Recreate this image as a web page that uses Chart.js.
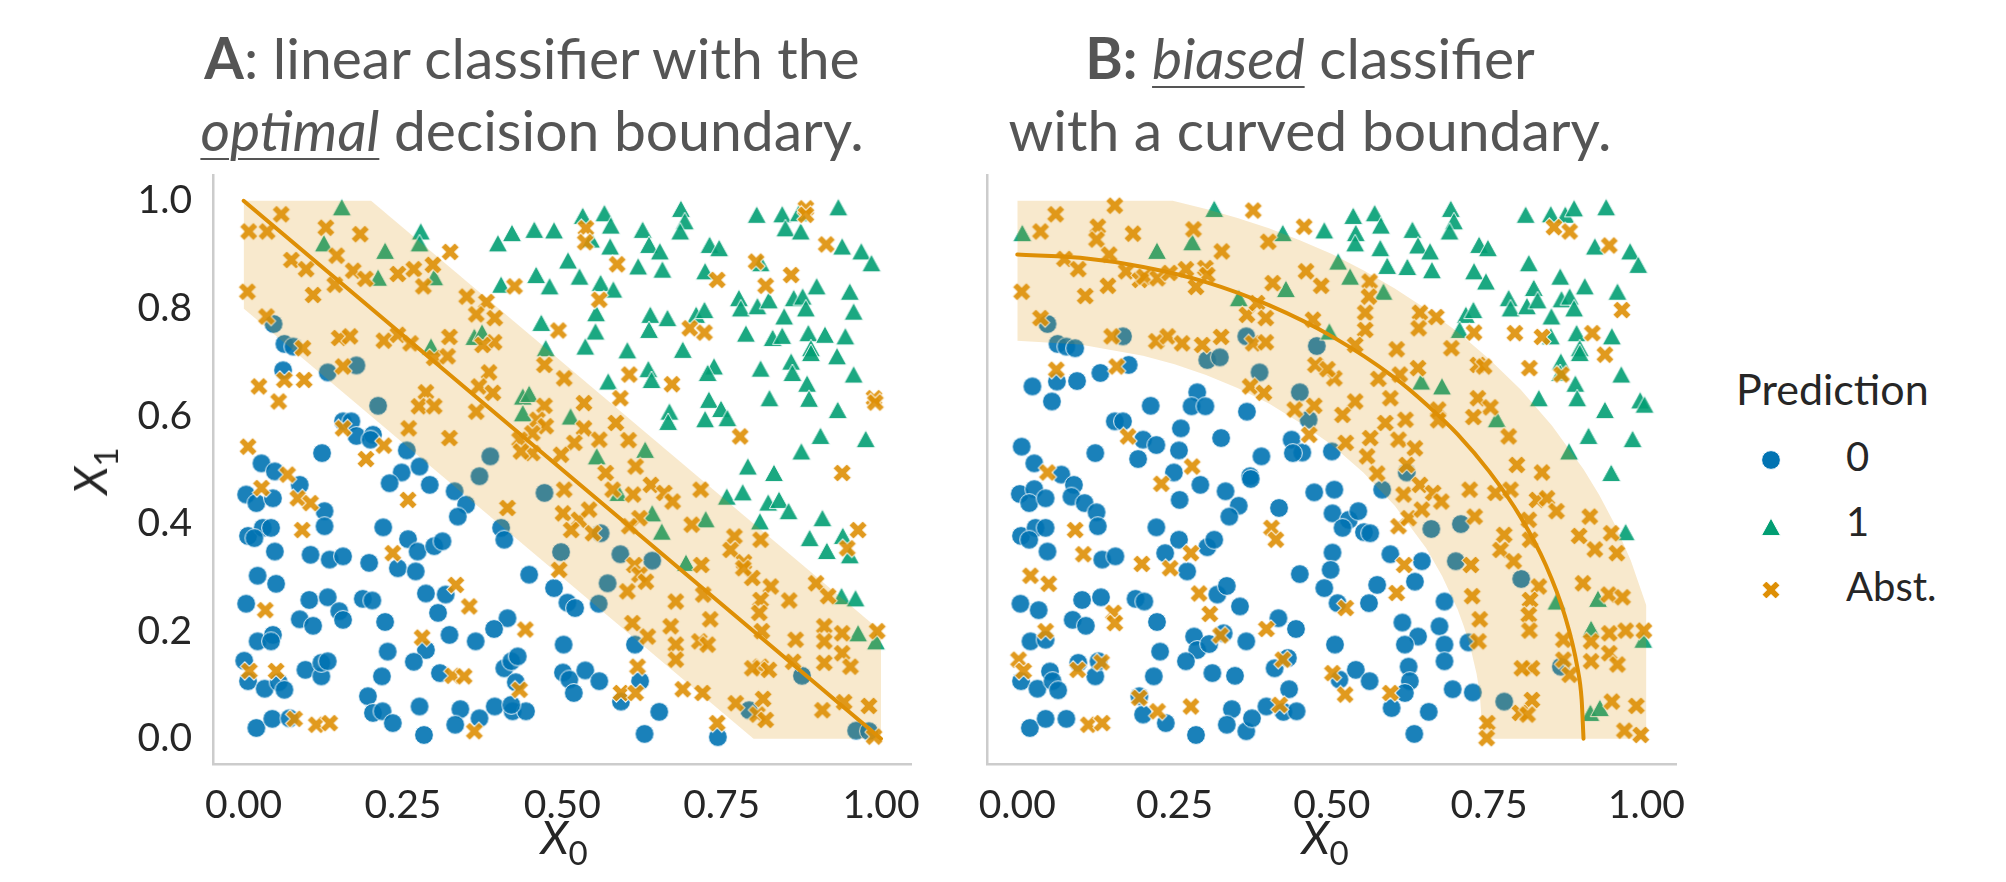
<!DOCTYPE html>
<html>
<head>
<meta charset="utf-8">
<script src="https://cdn.jsdelivr.net/npm/chart.js@4.4.0/dist/chart.umd.min.js"></script>
<style>
  body { margin: 0; background: #fff; width: 2006px; height: 882px; overflow: hidden; position: relative; font-family: Lato, sans-serif; }
  canvas.chart { position: absolute; top: 0; }
  #chartA { left: 0; }
  #chartB { left: 960px; }
  .title { position: absolute; top: 21px; width: 760px; text-align: center; font-size: 57px; line-height: 72px; color: #555; white-space: nowrap; }
  .title u { text-decoration-thickness: 2px; text-underline-offset: 7px; }
  .axlab { position: absolute; width: 200px; text-align: center; font-size: 46px; line-height: 46px; color: #262626; white-space: nowrap; }
  .axlab sub { font-size: 0.72em; vertical-align: -0.32em; line-height: 0; font-style: normal; }
  .leg { position: absolute; font-size: 40px; line-height: 40px; color: #262626; white-space: nowrap; }
  canvas.lmark { position: absolute; }
</style>
</head>
<body>
<canvas id="chartA" class="chart" width="960" height="882"></canvas>
<canvas id="chartB" class="chart" width="760" height="882"></canvas>

<div class="title" style="left:152px"><b>A</b>: linear classifier with the<br><u><i>optimal</i></u> decision boundary.</div>
<div class="title" style="left:930px"><b>B:</b> <u><i>biased</i></u> classifier<br>with a curved boundary.</div>

<div class="axlab" style="left:464px; top:814px"><i>X</i><sub>0</sub></div>
<div class="axlab" style="left:1225px; top:814px"><i>X</i><sub>0</sub></div>
<div class="axlab" style="left:90px; top:471px; width:auto; transform: translate(-50%, -50%) rotate(-90deg)"><i>X</i><sub>1</sub></div>

<div class="leg" style="left:1736px; top:367px; font-size:43px; line-height:43px">Prediction</div>
<div class="leg" style="left:1846px; top:436px">0</div>
<div class="leg" style="left:1846px; top:501px">1</div>
<div class="leg" style="left:1846px; top:566px">Abst.</div>

<script>
// colours (seaborn colorblind)
var BLUE = '#0173b2';
var GREEN = '#029e73';
var ORANGE = '#de8f05';

var X_TICKS = [0, 0.25, 0.5, 0.75, 1];
var Y_TICKS = [0, 0.2, 0.4, 0.6, 0.8, 1];
var LEGEND_LABELS = ['0', '1', 'Abst.'];

// panel A : predictions, [x0, x1]
var A_PRED0 = [
  [0.047,0.771],[0.064,0.734],[0.078,0.729],[0.062,0.685],[0.132,0.681],[0.177,0.694],[0.211,0.619],[0.156,0.590],
  [0.169,0.590],[0.177,0.563],[0.203,0.565],[0.199,0.556],[0.123,0.531],[0.028,0.512],[0.049,0.497],[0.256,0.536],
  [0.248,0.495],[0.276,0.506],[0.387,0.525],[0.370,0.488],[0.088,0.472],[0.004,0.454],[0.020,0.438],[0.046,0.447],
  [0.127,0.423],[0.127,0.395],[0.229,0.475],[0.292,0.472],[0.331,0.460],[0.349,0.435],[0.336,0.413],[0.472,0.457],
  [0.404,0.392],[0.409,0.370],[0.007,0.377],[0.030,0.392],[0.043,0.392],[0.017,0.373],[0.049,0.348],[0.105,0.342],
  [0.135,0.333],[0.156,0.339],[0.219,0.393],[0.197,0.327],[0.258,0.371],[0.273,0.348],[0.299,0.358],[0.312,0.367],
  [0.242,0.317],[0.270,0.311],[0.448,0.305],[0.022,0.303],[0.051,0.288],[0.004,0.251],[0.103,0.258],[0.132,0.263],
  [0.150,0.237],[0.156,0.221],[0.088,0.222],[0.109,0.210],[0.187,0.260],[0.202,0.257],[0.222,0.217],[0.286,0.270],
  [0.317,0.268],[0.305,0.234],[0.414,0.224],[0.393,0.204],[0.022,0.181],[0.046,0.193],[0.043,0.181],[0.226,0.162],
  [0.286,0.165],[0.323,0.193],[0.364,0.181],[0.001,0.145],[0.007,0.107],[0.033,0.093],[0.055,0.105],[0.064,0.091],
  [0.097,0.128],[0.122,0.116],[0.122,0.141],[0.132,0.144],[0.267,0.143],[0.217,0.116],[0.308,0.122],[0.409,0.131],
  [0.420,0.144],[0.430,0.153],[0.427,0.105],[0.020,0.020],[0.045,0.037],[0.072,0.038],[0.195,0.079],[0.203,0.048],
  [0.218,0.051],[0.234,0.029],[0.276,0.060],[0.283,0.007],[0.340,0.055],[0.332,0.026],[0.370,0.038],[0.394,0.060],
  [0.422,0.051],[0.443,0.051],[0.420,0.063],[0.560,0.382],[0.498,0.347],[0.591,0.343],[0.641,0.331],[0.571,0.289],
  [0.557,0.251],[0.487,0.280],[0.508,0.253],[0.520,0.243],[0.502,0.175],[0.614,0.175],[0.501,0.123],[0.511,0.110],
  [0.536,0.127],[0.558,0.107],[0.518,0.085],[0.622,0.107],[0.592,0.069],[0.652,0.050],[0.629,0.009],[0.744,0.003],
  [0.876,0.117],[0.793,0.053],[0.961,0.015],[0.981,0.014]
];
var A_PRED1 = [
  [0.154,0.988],[0.126,0.921],[0.222,0.907],[0.211,0.857],[0.299,0.858],[0.278,0.943],[0.276,0.921],[0.294,0.729],
  [0.362,0.747],[0.374,0.755],[0.456,0.946],[0.421,0.940],[0.399,0.921],[0.459,0.862],[0.480,0.841],[0.404,0.844],
  [0.467,0.773],[0.474,0.726],[0.438,0.636],[0.448,0.641],[0.438,0.605],[0.487,0.945],[0.532,0.972],[0.566,0.977],
  [0.576,0.954],[0.545,0.928],[0.575,0.915],[0.509,0.889],[0.527,0.859],[0.560,0.847],[0.580,0.835],[0.553,0.791],
  [0.552,0.757],[0.536,0.729],[0.626,0.946],[0.636,0.918],[0.653,0.906],[0.619,0.878],[0.657,0.872],[0.686,0.985],
  [0.692,0.962],[0.685,0.943],[0.731,0.918],[0.746,0.912],[0.724,0.869],[0.638,0.788],[0.665,0.782],[0.636,0.760],
  [0.710,0.788],[0.723,0.797],[0.602,0.722],[0.689,0.723],[0.635,0.687],[0.640,0.667],[0.572,0.664],[0.668,0.608],
  [0.666,0.589],[0.730,0.630],[0.749,0.613],[0.724,0.594],[0.759,0.596],[0.738,0.692],[0.728,0.680],[0.805,0.974],
  [0.845,0.975],[0.850,0.949],[0.874,0.943],[0.871,0.977],[0.933,0.988],[0.939,0.915],[0.969,0.906],[0.985,0.884],
  [0.811,0.884],[0.777,0.819],[0.780,0.800],[0.806,0.804],[0.824,0.815],[0.863,0.819],[0.877,0.822],[0.882,0.800],
  [0.899,0.841],[0.951,0.831],[0.957,0.794],[0.848,0.785],[0.788,0.753],[0.830,0.745],[0.845,0.749],[0.886,0.754],
  [0.912,0.751],[0.944,0.748],[0.890,0.726],[0.890,0.717],[0.931,0.711],[0.811,0.688],[0.859,0.701],[0.861,0.680],
  [0.957,0.677],[0.884,0.660],[0.887,0.632],[0.825,0.633],[0.932,0.611],[0.905,0.563],[0.976,0.557],[0.875,0.534],
  [0.791,0.506],[0.832,0.494],[0.513,0.599],[0.554,0.525],[0.630,0.537],[0.588,0.457],[0.641,0.419],[0.656,0.385],
  [0.725,0.408],[0.694,0.327],[0.758,0.450],[0.783,0.458],[0.823,0.439],[0.840,0.444],[0.855,0.423],[0.810,0.404],
  [0.964,0.196],[0.992,0.181],[0.938,0.265],[0.960,0.261],[0.908,0.410],[0.888,0.373],[0.915,0.349],[0.940,0.377],
  [0.951,0.341]
];
var A_ABST = [
  [0.059,0.975],[0.008,0.943],[0.037,0.943],[0.129,0.950],[0.183,0.938],[0.075,0.890],[0.146,0.898],[0.098,0.873],
  [0.172,0.870],[0.191,0.855],[0.242,0.864],[0.267,0.873],[0.297,0.881],[0.282,0.841],[0.324,0.905],[0.143,0.844],
  [0.109,0.825],[0.006,0.831],[0.036,0.785],[0.093,0.726],[0.150,0.745],[0.167,0.748],[0.220,0.740],[0.242,0.751],
  [0.262,0.735],[0.323,0.747],[0.299,0.708],[0.320,0.711],[0.381,0.812],[0.350,0.822],[0.365,0.789],[0.394,0.782],
  [0.393,0.737],[0.375,0.732],[0.064,0.667],[0.156,0.692],[0.024,0.655],[0.095,0.667],[0.055,0.627],[0.286,0.644],
  [0.275,0.618],[0.299,0.618],[0.259,0.577],[0.323,0.559],[0.156,0.577],[0.220,0.545],[0.192,0.520],[0.007,0.543],
  [0.069,0.491],[0.425,0.841],[0.472,0.695],[0.385,0.681],[0.369,0.655],[0.391,0.643],[0.365,0.608],[0.472,0.619],
  [0.461,0.593],[0.474,0.581],[0.453,0.568],[0.433,0.556],[0.453,0.531],[0.435,0.534],[0.537,0.949],[0.536,0.923],
  [0.586,0.882],[0.558,0.816],[0.494,0.759],[0.743,0.853],[0.700,0.763],[0.723,0.755],[0.605,0.677],[0.672,0.659],
  [0.591,0.633],[0.779,0.562],[0.882,0.986],[0.882,0.974],[0.914,0.919],[0.804,0.887],[0.859,0.862],[0.819,0.842],
  [0.989,0.633],[0.991,0.625],[0.939,0.494],[0.503,0.670],[0.534,0.624],[0.584,0.587],[0.534,0.577],[0.519,0.550],
  [0.498,0.528],[0.558,0.556],[0.604,0.555],[0.615,0.506],[0.568,0.494],[0.028,0.466],[0.085,0.447],[0.105,0.438],
  [0.258,0.444],[0.414,0.429],[0.092,0.388],[0.234,0.345],[0.034,0.239],[0.333,0.286],[0.354,0.246],[0.442,0.203],
  [0.280,0.188],[0.009,0.126],[0.051,0.126],[0.328,0.117],[0.346,0.116],[0.433,0.091],[0.080,0.037],[0.114,0.026],
  [0.135,0.029],[0.362,0.014],[0.503,0.463],[0.579,0.463],[0.611,0.454],[0.639,0.472],[0.660,0.457],[0.673,0.441],
  [0.717,0.463],[0.501,0.419],[0.526,0.407],[0.542,0.426],[0.514,0.388],[0.548,0.382],[0.621,0.410],[0.605,0.395],
  [0.703,0.398],[0.495,0.314],[0.613,0.323],[0.621,0.305],[0.631,0.292],[0.602,0.274],[0.718,0.323],[0.678,0.255],
  [0.721,0.268],[0.610,0.215],[0.634,0.190],[0.670,0.209],[0.678,0.175],[0.678,0.147],[0.732,0.222],[0.715,0.181],
  [0.728,0.175],[0.618,0.134],[0.592,0.085],[0.615,0.085],[0.689,0.092],[0.720,0.085],[0.743,0.029],[0.770,0.376],
  [0.764,0.351],[0.785,0.328],[0.798,0.299],[0.811,0.370],[0.827,0.283],[0.811,0.258],[0.809,0.234],[0.856,0.257],
  [0.784,0.317],[0.813,0.200],[0.866,0.184],[0.911,0.209],[0.911,0.181],[0.939,0.196],[0.939,0.159],[0.911,0.141],
  [0.952,0.134],[0.811,0.134],[0.798,0.131],[0.824,0.128],[0.862,0.143],[0.994,0.200],[0.898,0.289],[0.917,0.265],
  [0.964,0.388],[0.947,0.354],[0.772,0.066],[0.815,0.074],[0.806,0.045],[0.819,0.035],[0.908,0.053],[0.942,0.068],
  [0.981,0.061],[0.989,0.004]
];

// panel B
var B_PRED0 = [
  [0.048,0.771],[0.064,0.734],[0.078,0.729],[0.092,0.726],[0.168,0.748],[0.364,0.748],[0.302,0.704],[0.322,0.709],
  [0.476,0.730],[0.385,0.681],[0.063,0.664],[0.095,0.665],[0.024,0.655],[0.055,0.627],[0.132,0.680],[0.177,0.695],
  [0.286,0.644],[0.277,0.618],[0.299,0.618],[0.212,0.619],[0.365,0.608],[0.449,0.644],[0.463,0.593],[0.155,0.590],
  [0.168,0.590],[0.200,0.556],[0.221,0.546],[0.260,0.577],[0.324,0.559],[0.257,0.536],[0.192,0.520],[0.124,0.531],
  [0.007,0.543],[0.027,0.512],[0.249,0.495],[0.388,0.525],[0.436,0.556],[0.453,0.532],[0.438,0.531],[0.370,0.488],
  [0.070,0.491],[0.500,0.534],[0.619,0.495],[0.090,0.472],[0.004,0.455],[0.027,0.464],[0.019,0.438],[0.045,0.447],
  [0.086,0.450],[0.107,0.438],[0.126,0.421],[0.128,0.395],[0.291,0.472],[0.258,0.444],[0.331,0.460],[0.352,0.433],
  [0.337,0.413],[0.371,0.483],[0.416,0.429],[0.472,0.458],[0.006,0.377],[0.029,0.392],[0.045,0.392],[0.019,0.370],
  [0.048,0.348],[0.135,0.333],[0.156,0.339],[0.221,0.393],[0.257,0.370],[0.235,0.345],[0.270,0.311],[0.302,0.356],
  [0.313,0.370],[0.449,0.306],[0.488,0.280],[0.005,0.251],[0.034,0.239],[0.103,0.258],[0.133,0.263],[0.188,0.260],
  [0.202,0.255],[0.088,0.221],[0.109,0.210],[0.222,0.217],[0.318,0.268],[0.333,0.284],[0.354,0.246],[0.415,0.224],
  [0.443,0.204],[0.021,0.181],[0.045,0.184],[0.281,0.190],[0.286,0.165],[0.305,0.176],[0.328,0.196],[0.364,0.181],
  [0.227,0.162],[0.006,0.107],[0.032,0.093],[0.052,0.125],[0.056,0.107],[0.065,0.090],[0.097,0.141],[0.124,0.116],
  [0.129,0.144],[0.217,0.116],[0.268,0.144],[0.310,0.122],[0.346,0.117],[0.409,0.131],[0.430,0.150],[0.432,0.092],
  [0.020,0.020],[0.045,0.037],[0.078,0.037],[0.194,0.079],[0.200,0.045],[0.236,0.029],[0.284,0.007],[0.341,0.055],
  [0.333,0.026],[0.364,0.014],[0.373,0.038],[0.396,0.060],[0.423,0.050],[0.444,0.051],[0.580,0.463],[0.504,0.463],
  [0.501,0.419],[0.527,0.407],[0.542,0.423],[0.517,0.392],[0.551,0.384],[0.561,0.382],[0.658,0.390],[0.705,0.399],
  [0.501,0.346],[0.498,0.314],[0.593,0.343],[0.643,0.330],[0.632,0.292],[0.572,0.286],[0.559,0.252],[0.509,0.252],
  [0.697,0.330],[0.801,0.297],[0.679,0.255],[0.612,0.216],[0.637,0.190],[0.671,0.209],[0.616,0.175],[0.679,0.175],
  [0.679,0.144],[0.717,0.179],[0.505,0.175],[0.622,0.134],[0.624,0.107],[0.616,0.085],[0.595,0.057],[0.538,0.128],
  [0.512,0.110],[0.560,0.107],[0.864,0.134],[0.692,0.092],[0.724,0.086],[0.654,0.050],[0.631,0.009],[0.774,0.069]
];
var B_PRED1 = [
  [0.008,0.940],[0.222,0.907],[0.313,0.985],[0.278,0.923],[0.422,0.940],[0.488,0.945],[0.427,0.836],[0.352,0.819],
  [0.534,0.972],[0.568,0.977],[0.578,0.954],[0.538,0.940],[0.537,0.921],[0.577,0.912],[0.588,0.879],[0.628,0.946],
  [0.637,0.917],[0.656,0.906],[0.620,0.877],[0.659,0.871],[0.689,0.985],[0.694,0.962],[0.687,0.943],[0.734,0.918],
  [0.748,0.912],[0.726,0.869],[0.745,0.850],[0.808,0.974],[0.848,0.975],[0.871,0.974],[0.885,0.986],[0.936,0.988],
  [0.918,0.915],[0.974,0.906],[0.987,0.881],[0.813,0.884],[0.863,0.859],[0.902,0.841],[0.821,0.838],[0.781,0.819],
  [0.784,0.800],[0.810,0.804],[0.827,0.815],[0.865,0.817],[0.878,0.822],[0.885,0.800],[0.954,0.831],[0.713,0.788],
  [0.725,0.797],[0.703,0.760],[0.849,0.785],[0.848,0.748],[0.889,0.754],[0.894,0.726],[0.894,0.717],[0.945,0.748],
  [0.864,0.701],[0.863,0.680],[0.960,0.677],[0.887,0.660],[0.890,0.633],[0.829,0.633],[0.990,0.629],[0.997,0.621],
  [0.934,0.611],[0.908,0.563],[0.978,0.557],[0.877,0.534],[0.944,0.494],[0.510,0.887],[0.529,0.859],[0.582,0.831],
  [0.496,0.757],[0.642,0.664],[0.675,0.655],[0.762,0.594],[0.967,0.384],[0.857,0.255],[0.923,0.260],[0.912,0.204],
  [0.995,0.184],[0.911,0.048],[0.926,0.057]
];
var B_ABST = [
  [0.037,0.943],[0.061,0.975],[0.155,0.991],[0.128,0.952],[0.126,0.928],[0.184,0.939],[0.146,0.900],[0.375,0.982],
  [0.280,0.947],[0.325,0.906],[0.399,0.924],[0.456,0.952],[0.075,0.892],[0.097,0.873],[0.144,0.842],[0.108,0.823],
  [0.007,0.831],[0.173,0.869],[0.195,0.853],[0.202,0.859],[0.223,0.856],[0.242,0.866],[0.268,0.873],[0.299,0.875],
  [0.302,0.862],[0.284,0.840],[0.406,0.847],[0.483,0.842],[0.459,0.869],[0.365,0.788],[0.381,0.810],[0.395,0.782],
  [0.470,0.779],[0.037,0.782],[0.150,0.748],[0.221,0.739],[0.239,0.748],[0.262,0.735],[0.294,0.732],[0.324,0.747],
  [0.375,0.735],[0.395,0.737],[0.474,0.695],[0.062,0.686],[0.158,0.692],[0.370,0.655],[0.392,0.643],[0.441,0.612],
  [0.472,0.619],[0.464,0.565],[0.176,0.562],[0.278,0.506],[0.048,0.495],[0.853,0.951],[0.878,0.943],[0.941,0.917],
  [0.961,0.797],[0.726,0.755],[0.791,0.754],[0.834,0.747],[0.914,0.754],[0.934,0.714],[0.865,0.677],[0.814,0.689],
  [0.560,0.850],[0.559,0.822],[0.553,0.792],[0.553,0.760],[0.537,0.732],[0.640,0.792],[0.666,0.784],[0.638,0.763],
  [0.690,0.726],[0.603,0.724],[0.504,0.670],[0.493,0.687],[0.574,0.669],[0.608,0.677],[0.637,0.689],[0.593,0.633],
  [0.669,0.612],[0.669,0.592],[0.537,0.627],[0.517,0.602],[0.585,0.587],[0.617,0.593],[0.522,0.550],[0.561,0.559],
  [0.556,0.525],[0.606,0.556],[0.632,0.540],[0.619,0.509],[0.732,0.695],[0.742,0.692],[0.732,0.633],[0.752,0.616],
  [0.725,0.598],[0.781,0.562],[0.794,0.509],[0.834,0.495],[0.572,0.493],[0.229,0.474],[0.404,0.392],[0.411,0.370],
  [0.092,0.388],[0.105,0.343],[0.198,0.325],[0.243,0.317],[0.276,0.345],[0.021,0.303],[0.050,0.288],[0.153,0.234],
  [0.155,0.215],[0.289,0.270],[0.306,0.232],[0.396,0.204],[0.045,0.200],[0.323,0.192],[0.002,0.147],[0.010,0.126],
  [0.096,0.128],[0.134,0.142],[0.422,0.147],[0.113,0.026],[0.135,0.029],[0.194,0.076],[0.223,0.051],[0.276,0.060],
  [0.417,0.063],[0.614,0.454],[0.640,0.472],[0.661,0.457],[0.674,0.441],[0.719,0.463],[0.760,0.457],[0.784,0.463],
  [0.826,0.444],[0.842,0.447],[0.857,0.423],[0.813,0.407],[0.815,0.370],[0.774,0.379],[0.768,0.351],[0.789,0.330],
  [0.910,0.413],[0.893,0.377],[0.918,0.352],[0.944,0.382],[0.953,0.345],[0.606,0.395],[0.622,0.410],[0.643,0.426],
  [0.727,0.413],[0.615,0.323],[0.603,0.271],[0.522,0.243],[0.721,0.323],[0.829,0.283],[0.815,0.258],[0.813,0.230],
  [0.814,0.201],[0.723,0.265],[0.735,0.222],[0.733,0.181],[0.899,0.289],[0.940,0.268],[0.962,0.263],[0.868,0.184],
  [0.912,0.181],[0.941,0.196],[0.967,0.201],[0.996,0.201],[0.912,0.144],[0.941,0.159],[0.954,0.138],[0.501,0.122],
  [0.521,0.082],[0.593,0.085],[0.818,0.131],[0.802,0.131],[0.868,0.147],[0.878,0.119],[0.818,0.072],[0.799,0.048],
  [0.811,0.045],[0.747,0.029],[0.746,0.001],[0.945,0.069],[0.984,0.061],[0.965,0.015],[0.991,0.007]
];

// decision boundaries and abstention bands
var A_BOUNDARY = [[0, 1], [1, 0]];
var A_BAND_UPPER = [[0, 1], [0.2, 1], [1, 0.2]];
var A_BAND_LOWER = [[0, 0.8], [0.8, 0], [1, 0]];

var B_BOUNDARY = [
  [0, 0.9], [0.1, 0.894], [0.2, 0.877], [0.3, 0.849], [0.4, 0.806], [0.5, 0.748], [0.6, 0.671], [0.65, 0.622],
  [0.7, 0.566], [0.75, 0.497], [0.8, 0.412], [0.84, 0.323], [0.87, 0.230], [0.89, 0.134], [0.897, 0.073], [0.9, 0]
];
var B_BAND_UPPER = [
  [0, 1], [0.247, 1], [0.3, 0.985], [0.35, 0.968], [0.4, 0.949], [0.45, 0.926], [0.5, 0.901], [0.55, 0.871],
  [0.6, 0.837], [0.65, 0.799], [0.7, 0.756], [0.75, 0.706], [0.8, 0.649], [0.85, 0.582], [0.9, 0.501],
  [0.925, 0.453], [0.95, 0.398], [0.975, 0.332], [1, 0.247]
];
var B_BAND_LOWER = [
  [0, 0.74], [0.1, 0.733], [0.2, 0.712], [0.25, 0.696], [0.3, 0.676], [0.35, 0.652], [0.4, 0.623], [0.45, 0.587],
  [0.5, 0.546], [0.55, 0.495], [0.6, 0.433], [0.65, 0.354], [0.675, 0.303], [0.7, 0.240], [0.71, 0.208],
  [0.72, 0.171], [0.73, 0.121], [0.735, 0.086], [0.74, 0], [1, 0]
];

Chart.defaults.font.family = 'Lato';

function makeMarker(shape, color, alpha) {
  var c = document.createElement('canvas');
  c.width = 28;
  c.height = 28;
  var ctx = c.getContext('2d');
  ctx.globalAlpha = alpha;
  ctx.translate(14, 14);
  ctx.beginPath();
  if (shape === 'circle') {
    ctx.arc(0, 0, 9.4, 0, Math.PI * 2);
  } else if (shape === 'triangle') {
    ctx.moveTo(0, -9.0);
    ctx.lineTo(9.6, 8.6);
    ctx.lineTo(-9.6, 8.6);
    ctx.closePath();
  } else {
    // filled "X", like matplotlib's 'X' marker
    ctx.rotate(Math.PI / 4);
    var u = 3.25;
    var pts = [[-1,-3],[1,-3],[1,-1],[3,-1],[3,1],[1,1],[1,3],[-1,3],[-1,1],[-3,1],[-3,-1],[-1,-1]];
    pts.forEach(function(p, i) {
      if (i === 0) ctx.moveTo(p[0] * u, p[1] * u); else ctx.lineTo(p[0] * u, p[1] * u);
    });
    ctx.closePath();
  }
  ctx.fillStyle = color;
  ctx.fill();
  ctx.lineWidth = 1.0;
  ctx.strokeStyle = '#ffffff';
  ctx.stroke();
  return c;
}

var markers = {
  circle: makeMarker('circle', BLUE, 0.9),
  triangle: makeMarker('triangle', GREEN, 0.9),
  cross: makeMarker('cross', ORANGE, 0.9)
};

function scatterSet(data, style, order) {
  return { data: data, pointStyle: style, pointRadius: 9, pointHoverRadius: 9, order: order };
}

function buildChart(id, pred0, pred1, abst, boundary, bandUpper, bandLower, opts) {
  return new Chart(document.getElementById(id), {
    type: 'scatter',
    data: {
      datasets: [
        { data: boundary, showLine: true, borderColor: ORANGE, borderWidth: 4, borderCapStyle: 'round',
          pointRadius: 0, cubicInterpolationMode: 'monotone', order: 0 },
        { data: bandUpper, showLine: true, borderWidth: 0, borderColor: 'rgba(0,0,0,0)', pointRadius: 0,
          fill: '+1', backgroundColor: 'rgba(222,143,5,0.2)', order: 1 },
        { data: bandLower, showLine: true, borderWidth: 0, borderColor: 'rgba(0,0,0,0)', pointRadius: 0,
          fill: false, order: 1 },
        scatterSet(abst, markers.cross, 2),
        scatterSet(pred1, markers.triangle, 3),
        scatterSet(pred0, markers.circle, 4)
      ]
    },
    options: {
      responsive: false,
      animation: false,
      events: [],
      layout: { padding: { left: 0, right: opts.right, top: 175, bottom: 0 } },
      plugins: { legend: { display: false }, tooltip: { enabled: false } },
      scales: {
        x: {
          type: 'linear', min: -0.048, max: 1.047,
          afterBuildTicks: function(axis) { axis.ticks = X_TICKS.map(function(v) { return { value: v }; }); },
          afterFit: function(scale) { scale.height = 118; },
          grid: { display: false, drawTicks: false },
          border: { display: true, color: '#cccccc', width: 2.5 },
          ticks: { padding: 18, color: '#262626', font: { size: 39 }, maxRotation: 0, autoSkip: false,
            callback: function(v) { return Number(v).toFixed(2); } }
        },
        y: {
          type: 'linear', min: -0.047, max: 1.048,
          afterBuildTicks: function(axis) { axis.ticks = Y_TICKS.map(function(v) { return { value: v }; }); },
          afterFit: function(scale) { scale.width = opts.yWidth; },
          grid: { display: false, drawTicks: false },
          border: { display: true, color: '#cccccc', width: 2.5 },
          ticks: { display: opts.yTicks, padding: 21, color: '#262626', font: { size: 39 }, autoSkip: false,
            callback: function(v) { return Number(v).toFixed(1); } }
        }
      }
    }
  });
}

function drawLegend() {
  var shapes = ['circle', 'triangle', 'cross'];
  var colors = [BLUE, GREEN, ORANGE];
  var centers = [460, 527, 590];
  LEGEND_LABELS.forEach(function(lbl, i) {
    var m = makeMarker(shapes[i], colors[i], 1);
    m.className = 'lmark';
    m.style.left = (1771 - 14) + 'px';
    m.style.top = (centers[i] - 14) + 'px';
    document.body.appendChild(m);
  });
}

document.fonts.load('39px Lato').then(function() {
  buildChart('chartA', A_PRED0, A_PRED1, A_ABST, A_BOUNDARY, A_BAND_UPPER, A_BAND_LOWER,
    { right: 49, yWidth: 213, yTicks: true });
  buildChart('chartB', B_PRED0, B_PRED1, B_ABST, B_BOUNDARY, B_BAND_UPPER, B_BAND_LOWER,
    { right: 44, yWidth: 17, yTicks: false });
  drawLegend();
});
</script>
</body>
</html>
